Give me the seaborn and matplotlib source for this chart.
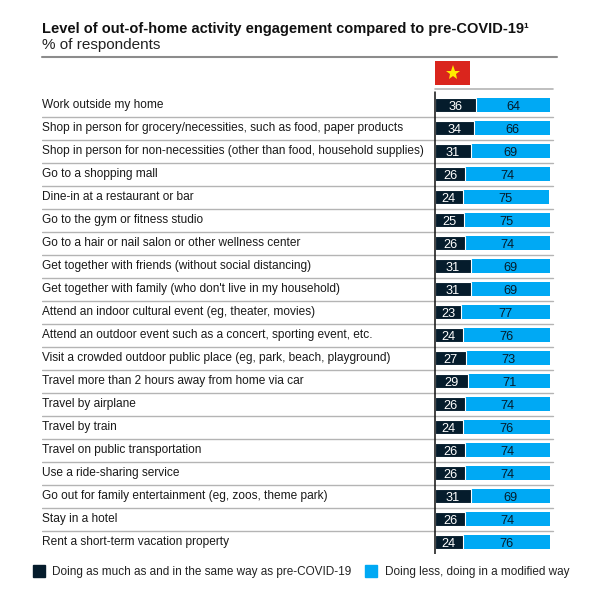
import matplotlib
matplotlib.use("Agg")
import matplotlib.pyplot as plt
import seaborn as sns
import pandas as pd
from matplotlib.patches import Rectangle
from matplotlib.lines import Line2D

activities = [
    "Work outside my home",
    "Shop in person for grocery/necessities, such as food, paper products",
    "Shop in person for non-necessities (other than food, household supplies)",
    "Go to a shopping mall",
    "Dine-in at a restaurant or bar",
    "Go to the gym or fitness studio",
    "Go to a hair or nail salon or other wellness center",
    "Get together with friends (without social distancing)",
    "Get together with family (who don't live in my household)",
    "Attend an indoor cultural event (eg, theater, movies)",
    "Attend an outdoor event such as a concert, sporting event, etc.",
    "Visit a crowded outdoor public place (eg, park, beach, playground)",
    "Travel more than 2 hours away from home via car",
    "Travel by airplane",
    "Travel by train",
    "Travel on public transportation",
    "Use a ride-sharing service",
    "Go out for family entertainment (eg, zoos, theme park)",
    "Stay in a hotel",
    "Rent a short-term vacation property",
]
same_as_before = [36, 34, 31, 26, 24, 25, 26, 31, 31, 23, 24, 27, 29, 26, 24, 26, 26, 31, 26, 24]
doing_less = [64, 66, 69, 74, 75, 75, 74, 69, 69, 77, 76, 73, 71, 74, 76, 74, 74, 69, 74, 76]

legend_labels = ["Doing as much as and in the same way as pre-COVID-19",
                 "Doing less, doing in a modified way"]
title = "Level of out-of-home activity engagement compared to pre-COVID-19\u00b9"
subtitle = "% of respondents"

DARK = "#051C2C"
BLUE = "#00A9F4"
GRID = "#b4b4b4"

sns.set_theme(style="white")
plt.rcParams["font.family"] = ["Liberation Sans", "DejaVu Sans"]

df = pd.DataFrame({
    "activity": activities,
    "same": same_as_before,
    "less": doing_less,
})
df["total"] = df["same"] + df["less"]

W, H = 600, 600
fig = plt.figure(figsize=(6, 6), dpi=100)

# axes geometry (pixels)
px_left, px_right = 42, 557
x0_px, x100_px = 435, 550
scale = (x100_px - x0_px) / 100.0
xmin = -(x0_px - px_left) / scale
xmax = (px_right - x0_px) / scale
row0, step = 105, 23
ytop_d, ybot_d = -0.75, 19.5
top_px = row0 + ytop_d * step
bot_px = row0 + ybot_d * step
ax = fig.add_axes([px_left / W, 1 - bot_px / H, (px_right - px_left) / W, (bot_px - top_px) / H])

sns.barplot(data=df, y="activity", x="total", color=BLUE, orient="h", width=0.62,
            ax=ax, saturation=1, linewidth=0)
sns.barplot(data=df, y="activity", x="same", color=DARK, orient="h", width=0.62,
            ax=ax, saturation=1, edgecolor="white", linewidth=0.8)

ax.set_xlim(xmin, xmax)
ax.set_ylim(ybot_d, ytop_d)
ax.set_xlabel("")
ax.set_ylabel("")
ax.set_xticks([])
ax.set_yticks([])
for s in ax.spines.values():
    s.set_visible(False)

end_x = (553 - x0_px) / scale
n = len(activities)
lab_off = 4.3 / step
num_off = 4.6 / step
for i in range(n):
    ax.text(xmin, i + lab_off - 0.04, activities[i], ha="left", va="baseline", fontsize=8.6,
            color="#1a1a1a")
    ax.text(same_as_before[i] / 2, i + num_off, str(same_as_before[i]), ha="center",
            va="baseline", fontsize=9.2, color="white")
    ax.text(same_as_before[i] + doing_less[i] / 2, i + num_off, str(doing_less[i]),
            ha="center", va="baseline", fontsize=9.2, color=DARK)
    if i < n - 1:
        ax.plot([xmin, end_x], [i + 0.5, i + 0.5], color=GRID, lw=1, zorder=0)

# line under flag
ax.plot([0, end_x], [-0.68, -0.68], color=GRID, lw=1.2, zorder=0)
ax.axvline(0, ymin=0, ymax=0.99, color="#111111", lw=1.1)

# top rule
fig.add_artist(Line2D([42 / W, 557 / W], [1 - 57 / H, 1 - 57 / H], color="#8c8c8c", lw=1.5))

fig.text(42 / W, 1 - 32.5 / H, title, fontsize=10.5, fontweight="bold", ha="left",
         va="baseline", color="#111111")
fig.text(42 / W, 1 - 48.5 / H, subtitle, fontsize=11, ha="left", va="baseline",
         color="#222222")

# flag
fax = fig.add_axes([435 / W, 1 - 85 / H, 35 / W, 24 / H])
fax.set_facecolor("#DA251D")
fax.set_xlim(0, 1)
fax.set_ylim(0, 1)
fax.plot([0.5], [0.5], marker="*", color="#FFEA00", markersize=11, markeredgewidth=0)
fax.set_xticks([])
fax.set_yticks([])
for s in fax.spines.values():
    s.set_visible(False)

# legend
ly = 571
for (sx, tx), col, lab in zip([(33, 52), (365, 385)], [DARK, BLUE], legend_labels):
    fig.add_artist(Rectangle((sx / W, 1 - (ly + 6) / H), 12 / W, 12 / H, color=col,
                             transform=fig.transFigure))
    fig.text(tx / W, 1 - (ly + 4.3) / H, lab, fontsize=8.5, ha="left", va="baseline",
             color="#222222")

fig.savefig("out.png", dpi=100, facecolor="white")
